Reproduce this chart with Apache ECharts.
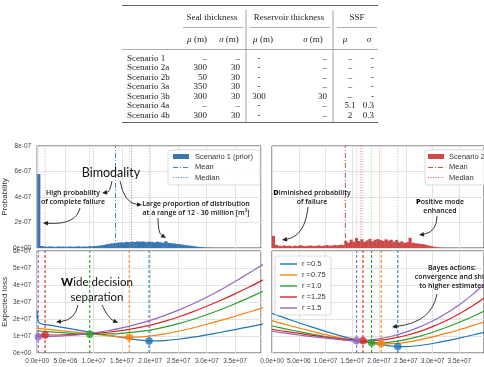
<!DOCTYPE html>
<html><head><meta charset="utf-8">
<script src="https://cdn.jsdelivr.net/npm/echarts@6/dist/echarts.min.js"></script>
<style>html,body{margin:0;padding:0;background:#fff}#c{width:484px;height:367px}</style>
</head><body><div id="c"></div>
<script>
// ---------------- DATA ----------------
// Table
const tableRows = ['Scenario 1','Scenario 2a','Scenario 2b','Scenario 3a','Scenario 3b','Scenario 4a','Scenario 4b'];
const sealMu    = ['–','300','50','350','300','–','300'];
const sealSigma = ['–','30','30','30','30','–','30'];
const resMu     = ['-','-','-','-','300','-','-'];
const resSigma  = ['–','–','–','–','30','–','–'];
const ssfMu     = ['–','–','–','–','–','5.1','2'];
const ssfSigma  = ['-','-','-','-','-','0.3','0.3'];
const groupHeaders = ['Seal thickness','Reservoir thickness','SSF'];

// Histograms (density, units of 1e-8), bin width 5e5 starting at 0
const binWidth = 5e5;
const scen1Density = [58,1.6,1.2,1.0,1.3,1.1,0.9,1.2,1.0,1.1,0.9,1.2,1.0,1.1,1.3,1.0,1.2,1.1,1.4,1.3,
  1.6,1.8,2.1,2.4,2.9,3.3,3.6,4.0,4.2,4.5,4.3,4.8,4.6,5.0,4.7,5.2,4.9,5.1,4.6,5.0,
  4.8,4.4,4.9,4.5,4.2,5.3,4.0,3.8,3.5,3.2,3.0,2.6,2.3,2.0,1.7,1.4,1.1,0.8,0.6,0.4,0.2,0.1];
const scen2Density = [9.5,2.5,1.8,1.5,2.0,1.6,1.8,1.3,1.9,1.5,2.2,1.7,1.4,1.8,2.0,1.5,1.7,2.1,1.6,1.9,
  2.3,1.8,2.0,2.4,2.1,2.6,2.3,5.5,4.2,6.5,5.0,7.8,5.5,6.8,4.8,6.0,7.2,5.2,6.5,7.0,
  6.2,5.5,6.8,5.8,6.5,5.0,6.2,4.5,5.2,4.0,4.6,8.0,4.2,3.8,3.5,3.2,3.0,2.5,2.0,1.5,1.0,0.6,0.3,0.1];

// Expected loss curves (units of 1e7) sampled at lossX
const lossX = [0,2.5e6,5e6,7.5e6,1e7,1.25e7,1.5e7,1.75e7,2e7,2.25e7,2.5e7,2.75e7,3e7,3.25e7,3.5e7,3.75e7,4e7];
const rLabels = ['r =0.5','r =0.75','r =1.0','r =1.25','r =1.5'];
const rColors = ['#1f77b4','#ff7f0e','#2ca02c','#d62728','#9467bd'];
// Scenario 1 (left)
const lossLeftBlueStartX = [0, 3e5];
const lossLeftBlueStartY = [2.5, 1.78];
const lossLeft_r05  = [1.78,1.63,1.48,1.33,1.18,1.04,0.91,0.79,0.71,0.73,0.81,0.93,1.07,1.22,1.38,1.54,1.70];
const lossLeft_r075 = [1.45,1.37,1.29,1.20,1.11,1.02,0.95,0.93,1.00,1.12,1.28,1.47,1.69,1.92,2.16,2.41,2.67];
const lossLeft_r10  = [1.30,1.24,1.18,1.13,1.11,1.12,1.16,1.24,1.35,1.52,1.73,1.97,2.25,2.56,2.90,3.26,3.63];
const lossLeft_r125 = [1.08,1.06,1.07,1.10,1.15,1.22,1.32,1.46,1.64,1.86,2.12,2.42,2.75,3.10,3.48,3.88,4.30];
const lossLeft_r15  = [0.96,0.98,1.02,1.08,1.18,1.31,1.48,1.68,1.92,2.20,2.52,2.88,3.28,3.72,4.20,4.70,5.22];
const decisionLeftX = [1.98e7,1.63e7,9.3e6,1.4e6,2e5];
const decisionLeftY = [0.71,0.93,1.11,1.06,0.96];
const meanLeft = 1.386e7, medianLeft = 1.67e7;
// Scenario 2 (right)
const lossRight_r05  = [2.33,2.05,1.78,1.52,1.27,1.04,0.83,0.65,0.51,0.41,0.38,0.44,0.56,0.71,0.88,1.06,1.25];
const lossRight_r075 = [1.90,1.68,1.47,1.27,1.08,0.91,0.75,0.62,0.54,0.55,0.63,0.77,0.95,1.15,1.37,1.61,1.86];
const lossRight_r10  = [1.59,1.42,1.26,1.11,0.97,0.84,0.72,0.64,0.61,0.66,0.79,0.98,1.22,1.50,1.81,2.15,2.52];
const lossRight_r125 = [1.39,1.27,1.15,1.04,0.94,0.85,0.77,0.72,0.75,0.86,1.03,1.26,1.55,1.90,2.31,2.78,3.30];
const lossRight_r15  = [1.28,1.17,1.06,0.96,0.87,0.79,0.73,0.74,0.83,1.00,1.23,1.52,1.88,2.32,2.84,3.45,4.15];
const decisionRightX = [2.35e7,2.04e7,1.86e7,1.70e7,1.58e7];
const decisionRightY = [0.38,0.54,0.61,0.72,0.72];
const meanRight = 1.37e7, medianRight = 1.66e7;

// Axis ticks
const xMax = 3.96e7, xStep = 5e6;
const probMax = 8e-7, probStep = 2e-7;
const lossMax = 6e7, lossStep = 1e7;

// ---------------- HELPERS ----------------
function sci(v, d){
  if (Math.abs(v) < 1e-30) return (0).toFixed(d) + 'e+00';
  const s = v.toExponential(d); const parts = s.split('e');
  const sign = parts[1][0]; const n = parts[1].slice(1).padStart(2,'0');
  return parts[0] + 'e' + sign + n;
}
const TICK_FONT = 'Liberation Sans';
const GRID_COLOR = '#e2e2e2';
const BORDER = '#4a4a4a';
const MEAN_BLUE = '#3d86c6', MEAN_RED = '#dc4a45';

const grids = [
  {left:35, top:146, width:226, height:102},
  {left:35, top:251, width:226, height:102},
  {left:272, top:146, width:226, height:102},
  {left:272, top:251, width:226, height:102}
].map(g => Object.assign({show:true, borderColor:BORDER, borderWidth:1, backgroundColor:'#fff'}, g));

const xAxes = [0,1,2,3].map(i => ({
  type:'value', gridIndex:i, min:0, max:xMax, interval:xStep,
  axisLine:{show:false}, axisTick:{show:false},
  splitLine:{show:true, lineStyle:{color:GRID_COLOR, width:1}},
  axisLabel:{show: i===1 || i===3, fontSize:6.5, color:'#444', fontFamily:TICK_FONT, margin:5,
    showMaxLabel:false, formatter: v => sci(v,1)}
}));
const yAxes = [0,1,2,3].map(i => {
  const isProb = (i===0 || i===2);
  return {
    type:'value', gridIndex:i, min:0, max: isProb ? probMax : lossMax, interval: isProb ? probStep : lossStep,
    axisLine:{show:false}, axisTick:{show:false},
    splitLine:{show:true, lineStyle:{color:GRID_COLOR, width:1}},
    name: i===0 ? 'Probability' : (i===1 ? 'Expected loss' : ''),
    nameLocation:'middle', nameGap:22,
    nameTextStyle:{fontSize:8, color:'#333', fontFamily:TICK_FONT},
    axisLabel:{show: i<2, fontSize:6.5, color:'#444', fontFamily:TICK_FONT, margin:6,
      formatter: v => sci(v,0)}
  };
});

const series = [];
function histSeries(axisIdx, values, color){
  const data = values.map((v,i) => [i*binWidth, (i+1)*binWidth, v*1e-8]);
  return {type:'custom', xAxisIndex:axisIdx, yAxisIndex:axisIdx, data, silent:true, z:2,
    encode:{x:[0,1], y:2},
    renderItem(params, api){
      const a = api.coord([api.value(0), api.value(2)]);
      const b = api.coord([api.value(1), 0]);
      return {type:'rect', shape:{x:a[0], y:a[1], width:b[0]-a[0]+0.4, height:b[1]-a[1]},
        style:{fill:color}};
    }};
}
function vline(axisIdx, x, ymax, color, type, width, opacity, z){
  return {type:'line', xAxisIndex:axisIdx, yAxisIndex:axisIdx, data:[[x,0],[x,ymax]],
    symbol:'none', silent:true, z:z||3, animation:false,
    lineStyle:{color, type, width, opacity}};
}
function curve(axisIdx, xs, ys, color){
  return {type:'line', xAxisIndex:axisIdx, yAxisIndex:axisIdx,
    data: xs.map((x,i) => [x, ys[i]*1e7]), smooth:0.3,
    symbol:'none', silent:true, z:5, animation:false, lineStyle:{color, width:1.2}};
}
function dot(axisIdx, x, y, color){
  return {type:'scatter', xAxisIndex:axisIdx, yAxisIndex:axisIdx, data:[[x, y*1e7]],
    symbolSize:7.5, silent:true, z:7, animation:false, itemStyle:{color}};
}

const DASHDOT = [5,2,1,2], DOTTED = [1,1.6], DASHED = [3,2];
// Top-left histogram & lines
series.push(histSeries(0, scen1Density, '#3a77b0'));
decisionLeftX.forEach((x,i) => series.push(vline(0, x, probMax, rColors[i], DOTTED, 0.8, 0.55)));
series.push(vline(0, meanLeft, probMax, MEAN_BLUE, DASHDOT, 1, 1));
series.push(vline(0, medianLeft, probMax, MEAN_BLUE, DOTTED, 0.9, 0.85));
// Top-right
series.push(histSeries(2, scen2Density, '#cc4a48'));
decisionRightX.forEach((x,i) => series.push(vline(2, x, probMax, rColors[i], DOTTED, 0.8, 0.55)));
series.push(vline(2, meanRight, probMax, MEAN_RED, DASHDOT, 1, 1));
series.push(vline(2, medianRight, probMax, MEAN_RED, DOTTED, 0.9, 0.85));

// Bottom
const leftCurves = [lossLeft_r05, lossLeft_r075, lossLeft_r10, lossLeft_r125, lossLeft_r15];
const rightCurves = [lossRight_r05, lossRight_r075, lossRight_r10, lossRight_r125, lossRight_r15];
decisionLeftX.forEach((x,i) => series.push(vline(1, x, lossMax, rColors[i], DASHED, 1.1, 1)));
decisionRightX.forEach((x,i) => series.push(vline(3, x, lossMax, rColors[i], DASHED, 1.1, 1)));
leftCurves.forEach((ys,i) => {
  if (i === 0) {
    const xs = lossLeftBlueStartX.concat(lossX.slice(1));
    const vs = lossLeftBlueStartY.concat(ys.slice(1));
    series.push(curve(1, xs, vs, rColors[i]));
  } else series.push(curve(1, lossX, ys, rColors[i]));
});
rightCurves.forEach((ys,i) => series.push(curve(3, lossX, ys, rColors[i])));
decisionLeftX.forEach((x,i) => series.push(dot(1, x, decisionLeftY[i], rColors[i])));
decisionRightX.forEach((x,i) => series.push(dot(3, x, decisionRightY[i], rColors[i])));

// ---------------- GRAPHICS (table, legends, annotations) ----------------
const G = [];
const SERIF = '"Liberation Serif", "DejaVu Serif", serif';
function txt(text, x, y, font, align, fill, extra){
  return Object.assign({type:'text', silent:true, z:100,
    style:Object.assign({text, x, y, font, align:align||'center', verticalAlign:'middle',
      textAlign:align||'center', textVerticalAlign:'middle', fill:fill||'#222'}, extra||{})});
}
function hline(x1,x2,y,w,color){
  return {type:'line', silent:true, z:100, shape:{x1,y1:y,x2,y2:y}, style:{stroke:color||'#777', lineWidth:w||0.8}};
}
function vl(x,y1,y2){
  return {type:'line', silent:true, z:100, shape:{x1:x,y1,x2:x,y2}, style:{stroke:'#888', lineWidth:0.8}};
}
// Table
const TF = '9px ' + SERIF;
const rowY = [58.5,68,77.5,87,96.5,106,115.5];
G.push(hline(122,378,5.5,1.1,'#666'));
G.push(txt(groupHeaders[0], 212, 17.5, TF));
G.push(txt(groupHeaders[1], 289, 17.5, TF));
G.push(txt(groupHeaders[2], 357, 17.5, TF));
G.push(hline(183,243,27.5,0.7,'#888'));
G.push(hline(250,330,27.5,0.7,'#888'));
G.push(hline(337,377,27.5,0.7,'#888'));
const subHead = [[197,'μ',' (m)'],[229,'σ',' (m)'],[263,'μ',' (m)'],[313,'σ',' (m)'],[345,'μ',''],[369,'σ','']];
subHead.forEach(s => G.push(txt('{i|' + s[1] + '}' + s[2], s[0], 39.5, TF, 'center', '#222',
  {rich:{i:{font:'italic 9px ' + SERIF, fill:'#222'}}})));
G.push(hline(122,378,49.5,0.7,'#888'));
G.push(hline(122,378,122.5,1.1,'#666'));
G.push(vl(246,10,122));
G.push(vl(333,10,122));
tableRows.forEach((r,i) => {
  const y = rowY[i];
  G.push(txt(r, 127, y, TF, 'left'));
  G.push(txt(sealMu[i], 207, y, TF, 'right'));
  G.push(txt(sealSigma[i], 240, y, TF, 'right'));
  G.push(txt(resMu[i], 259, y, TF, 'center'));
  G.push(txt(resSigma[i], 327, y, TF, 'right'));
  G.push(txt(ssfMu[i], 350, y, TF, 'center'));
  G.push(txt(ssfSigma[i], 374, y, TF, 'right'));
});

// Legends
const LF = '7.5px "Liberation Sans"';
function legendBox(x,y,w,h){
  return {type:'rect', silent:true, z:90, shape:{x,y,width:w,height:h,r:2},
    style:{fill:'rgba(255,255,255,0.85)', stroke:'#d0d0d0', lineWidth:0.8}};
}
function legLine(x1,x2,y,color,dash,w){
  return {type:'line', silent:true, z:95, shape:{x1,y1:y,x2,y2:y},
    style:{stroke:color, lineWidth:w||1, lineDash:dash||null}};
}
// top-left legend
G.push(legendBox(168,150,92,35));
G.push({type:'rect', silent:true, z:95, shape:{x:173,y:154,width:16,height:5}, style:{fill:'#3a77b0'}});
G.push(txt('Scenario 1 (prior)', 195, 157, LF, 'left', '#333'));
G.push(legLine(173,189,167.5,MEAN_BLUE,DASHDOT,1));
G.push(txt('Mean', 195, 167, LF, 'left', '#333'));
G.push(legLine(173,189,177.5,MEAN_BLUE,DOTTED,1));
G.push(txt('Median', 195, 177.5, LF, 'left', '#333'));
// top-right legend
G.push(legendBox(425,150,70,35));
G.push({type:'rect', silent:true, z:95, shape:{x:428,y:154,width:16,height:5}, style:{fill:'#cc4a48'}});
G.push(txt('Scenario 2', 449, 157, LF, 'left', '#333'));
G.push(legLine(428,444,167.5,MEAN_RED,DASHDOT,1));
G.push(txt('Mean', 449, 167, LF, 'left', '#333'));
G.push(legLine(428,444,177.5,MEAN_RED,DOTTED,1));
G.push(txt('Median', 449, 177.5, LF, 'left', '#333'));
// bottom-right legend
G.push(legendBox(275,256,56,59));
rLabels.forEach((lab,i) => {
  const y = 264 + i*11;
  G.push(legLine(280,297,y,rColors[i],null,1.4));
  G.push(txt(lab, 302, y, LF, 'left', '#333'));
});

// Annotations
const AF = '"Open Sans", "Lato", sans-serif';
const BF = '"Lato", "Open Sans", sans-serif';
function arrow(x1,y1,cx,cy,x2,y2){
  const ang = Math.atan2(y2-cy, x2-cx);
  const L = 5, W = 2.3;
  const bx = x2 - L*Math.cos(ang), by = y2 - L*Math.sin(ang);
  const px = -Math.sin(ang)*W, py = Math.cos(ang)*W;
  return [
    {type:'bezierCurve', silent:true, z:99, shape:{x1,y1,x2:bx,y2:by,cpx1:cx,cpy1:cy},
      style:{stroke:'#222', lineWidth:0.9, fill:null}},
    {type:'polygon', silent:true, z:99, shape:{points:[[x2,y2],[bx+px,by+py],[bx-px,by-py]]},
      style:{fill:'#222'}}
  ];
}
const SB = '600 7px ' + AF;
const richB = {b:{font:'800 7.5px ' + AF, fill:'#111'}};
const richBig = {b:{font:'900 11.5px ' + BF, fill:'#111'}};
G.push(txt('Bimodality', 111, 173, '400 12.5px ' + BF, 'center', '#111'));
G.push(txt('High probability', 73, 193, SB, 'center', '#111'));
G.push(txt('of complete failure', 73, 202, SB, 'center', '#111'));
G.push(txt('Large proportion of distribution', 196, 204, SB, 'center', '#111'));
G.push(txt('at a range of 12 - 30 million [m³]', 196, 213, SB, 'center', '#111'));
G.push(...arrow(112,181,110,192,102,193));
G.push(...arrow(120,181,124,203,142,205));
G.push(...arrow(80,208,76,225,43,223));
G.push(...arrow(158,218,158,233,166,238));

G.push(txt('{b|D}iminished probability', 312, 193, SB, 'center', '#111', {rich:richB}));
G.push(txt('of failure', 312, 202, SB, 'center', '#111'));
G.push(...arrow(308,207,305,236,282,240));
G.push(txt('{b|P}ositive mode', 440, 202, SB, 'center', '#111', {rich:richB}));
G.push(txt('enhanced', 440, 211, SB, 'center', '#111'));
G.push(...arrow(437,216,437,232,419,235));

G.push(txt('{b|W}ide decision', 97, 282, '400 11.5px ' + BF, 'center', '#111', {rich:richBig}));
G.push(txt('separation', 97, 297, '400 11.5px ' + BF, 'center', '#111'));
G.push(...arrow(78,305,75,320,56,322));
G.push(...arrow(102,305,108,318,118,323));

G.push(txt('Bayes actions:', 452, 268, SB, 'center', '#111'));
G.push(txt('convergence and shift', 452, 277, SB, 'center', '#111'));
G.push(txt('to higher estimates', 452, 286, SB, 'center', '#111'));
G.push(...arrow(437,294,432,322,392,327));

const chart = echarts.init(document.getElementById('c'), null, {renderer:'canvas', width:484, height:367});
chart.setOption({
  animation:false,
  backgroundColor:'#fff',
  grid: grids,
  xAxis: xAxes,
  yAxis: yAxes,
  series: series,
  graphic: {elements: G}
});
</script></body></html>
